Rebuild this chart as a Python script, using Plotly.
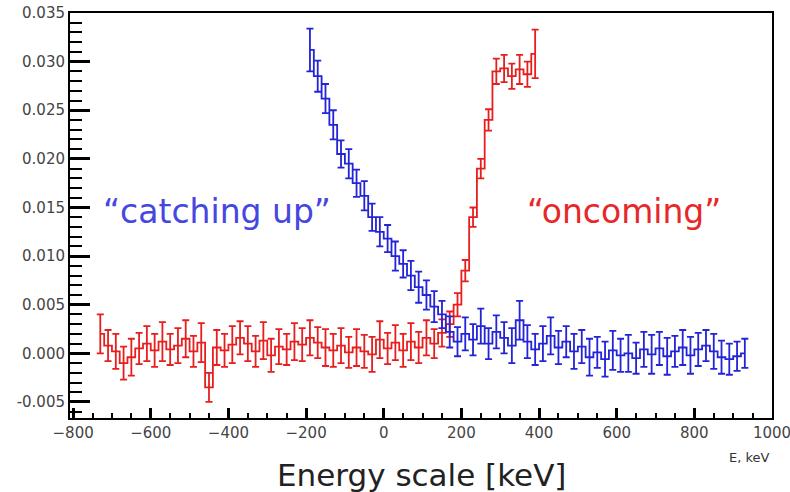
import plotly.graph_objects as go

# ---- data ----
red_x = list(range(-730, 400, 20))
red_y = [0.0020, 0.0008, 0.0002, -0.0010, -0.0004, 0.0005, 0.0010, 0.0003, 0.0012, 0.0004,
         0.0008, 0.0015, 0.0002, 0.0011, -0.0035, 0.0006, 0.0003, 0.0009, 0.0016, 0.0010,
         0.0002, 0.0013, -0.0002, 0.0007, 0.0004, 0.0012, 0.0009, 0.0016, 0.0011, 0.0006,
         0.0003, 0.0008, 0.0001, 0.0006, 0.0002, -0.0001, 0.0014, 0.0005, 0.0011, 0.0003,
         0.0012, 0.0006, 0.0016, 0.0010, 0.0021, 0.0030, 0.0050, 0.0085, 0.0140, 0.0190,
         0.0240, 0.0290, 0.0293, 0.0285, 0.0292, 0.0287, 0.0308]
red_err = [0.0020, 0.0016, 0.0018, 0.0017, 0.0019, 0.0016, 0.0018, 0.0017, 0.0020, 0.0016,
           0.0018, 0.0019, 0.0016, 0.0020, 0.0015, 0.0018, 0.0017, 0.0019, 0.0017, 0.0018,
           0.0016, 0.0019, 0.0017, 0.0018, 0.0016, 0.0019, 0.0017, 0.0018, 0.0016, 0.0019,
           0.0017, 0.0018, 0.0016, 0.0019, 0.0017, 0.0018, 0.0019, 0.0016, 0.0018, 0.0017,
           0.0019, 0.0016, 0.0018, 0.0015, 0.0014, 0.0013, 0.0012, 0.0011, 0.0010, 0.0010,
           0.0011, 0.0013, 0.0014, 0.0013, 0.0015, 0.0013, 0.0025]

blue_x = list(range(-190, 940, 20))
blue_y = [0.0312, 0.0285, 0.0262, 0.0235, 0.0205, 0.0195, 0.0175, 0.0162, 0.0140, 0.0125,
          0.0118, 0.0100, 0.0092, 0.0080, 0.0068, 0.0060, 0.0048, 0.0040, 0.0022, 0.0012,
          0.0020, 0.0014, 0.0028, 0.0010, 0.0022, 0.0016, 0.0008, 0.0034, 0.0012, 0.0004,
          0.0010, 0.0018, 0.0006, 0.0012, 0.0002, 0.0007, -0.0004, 0.0001, -0.0006, 0.0003,
          -0.0002, 0.0000, -0.0005, 0.0004, -0.0001, 0.0005, -0.0003, 0.0002, 0.0006, -0.0002,
          0.0004, 0.0008, 0.0002, -0.0004, -0.0006, -0.0003, 0.0000]
blue_err = [0.0022, 0.0016, 0.0015, 0.0015, 0.0014, 0.0015, 0.0014, 0.0015, 0.0014, 0.0015,
            0.0014, 0.0015, 0.0014, 0.0015, 0.0016, 0.0015, 0.0016, 0.0014, 0.0016, 0.0015,
            0.0017, 0.0016, 0.0018, 0.0016, 0.0017, 0.0016, 0.0018, 0.0020, 0.0017, 0.0016,
            0.0018, 0.0019, 0.0017, 0.0016, 0.0018, 0.0017, 0.0019, 0.0016, 0.0018, 0.0020,
            0.0017, 0.0019, 0.0016, 0.0018, 0.0020, 0.0017, 0.0019, 0.0016, 0.0018, 0.0019,
            0.0017, 0.0016, 0.0018, 0.0017, 0.0016, 0.0015, 0.0015]

y_ticks = [-0.005, 0.0, 0.005, 0.010, 0.015, 0.020, 0.025, 0.030, 0.035]
y_labels = ["-0.005", "0.000", "0.005", "0.010", "0.015", "0.020", "0.025", "0.030", "0.035"]
x_ticks = [-800, -600, -400, -200, 0, 200, 400, 600, 800, 1000]

RED = "rgb(232,30,30)"
BLUE = "rgb(35,35,215)"

fig = go.Figure()
for xs, ys, es, col in [(red_x, red_y, red_err, RED), (blue_x, blue_y, blue_err, BLUE)]:
    fig.add_trace(go.Scatter(
        x=xs, y=ys, mode="lines", line=dict(color=col, width=1.8, shape="hvh"),
        error_y=dict(type="data", array=es, visible=True, color=col, thickness=1.8, width=3.5),
        showlegend=False, hoverinfo="skip"))

fig.update_layout(
    width=790, height=492,
    margin=dict(l=70, r=18, t=13, b=74),
    paper_bgcolor="white", plot_bgcolor="white",
    font=dict(family="DejaVu Sans", size=15, color="#333"),
    xaxis=dict(
        range=[-808, 1000], tickmode="array", tickvals=x_ticks, ticks="inside", ticklen=10,
        tickwidth=2.5, tickcolor="#000000", showline=True, linecolor="#000000", linewidth=2,
        mirror=True, showgrid=False, zeroline=False, ticklabeloverflow="allow",
        automargin=False,
        minor=dict(ticks="inside", ticklen=5, tickwidth=2, tickcolor="#000000",
                   dtick=50, tick0=0, showgrid=False),
        tickfont=dict(family="DejaVu Sans", size=15, color="#444"),
    ),
    yaxis=dict(
        range=[-0.00665, 0.035], tickmode="array", tickvals=y_ticks, ticktext=y_labels,
        ticks="inside", ticklen=20, tickwidth=2.5, tickcolor="#000000", showline=True,
        linecolor="#000000", linewidth=2, mirror=True, showgrid=False, zeroline=False,
        automargin=False,
        minor=dict(ticks="inside", ticklen=12, tickwidth=2, tickcolor="#000000",
                   dtick=0.001, tick0=0, showgrid=False),
        tickfont=dict(family="DejaVu Sans", size=15, color="#444"),
    ),
)

fig.add_annotation(text="Energy scale [keV]", xref="paper", yref="paper", x=0.5, y=-0.14,
                   yanchor="middle", xanchor="center", showarrow=False,
                   font=dict(family="DejaVu Sans", size=31, color="#222"))
fig.add_annotation(text="E, keV", xref="paper", yref="paper", x=1.0, y=-0.075,
                   yanchor="top", xanchor="right", showarrow=False,
                   font=dict(family="DejaVu Sans", size=13, color="#333"))
fig.add_annotation(text="\u201ccatching up\u201d", x=-430, y=0.0146, xref="x", yref="y",
                   showarrow=False, font=dict(family="DejaVu Sans", size=33, color="rgb(70,70,225)"))
fig.add_annotation(text="\u201concoming\u201d", x=618, y=0.0146, xref="x", yref="y",
                   showarrow=False, font=dict(family="DejaVu Sans", size=33, color="rgb(232,40,40)"))

fig.write_html("out.html")
